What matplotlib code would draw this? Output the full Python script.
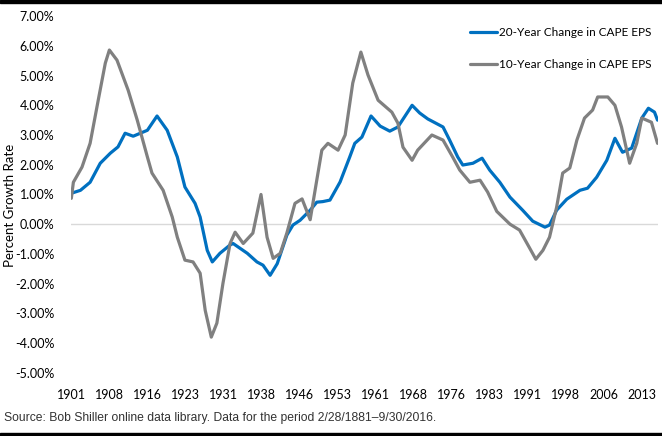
import numpy as np
import matplotlib
matplotlib.use("Agg")
import matplotlib.pyplot as plt
from matplotlib.patches import Rectangle

# =============================================================================
# Data (percent)
# =============================================================================

yrs_20 = [1901.1, 1902.9, 1904.8, 1906.8, 1908.8, 1910.3, 1911.7, 1913.3, 1916.1,
          1918.0, 1920.0, 1922.0, 1923.5, 1925.5, 1926.5, 1927.9, 1928.9, 1930.4,
          1932.4, 1933.0, 1935.8, 1937.7, 1938.9, 1940.3, 1941.7, 1943.6, 1944.8,
          1946.2, 1948.2, 1949.5, 1950.7, 1952.1, 1954.1, 1956.0, 1957.0, 1958.4,
          1960.2, 1962.0, 1963.9, 1965.5, 1968.3, 1969.8, 1971.4, 1974.4, 1975.7,
          1977.3, 1978.3, 1980.3, 1982.1, 1983.6, 1985.6, 1987.6, 1990.1, 1992.1,
          1994.5, 1995.4, 1996.8, 1998.8, 2001.4, 2002.9, 2004.7, 2006.7, 2008.3,
          2009.8, 2011.6, 2013.6, 2014.9, 2016.1, 2016.7]
chg_20 = [1.04, 1.14, 1.41, 2.05, 2.39, 2.60, 3.06, 2.96, 3.16,
          3.64, 3.16, 2.26, 1.25, 0.70, 0.24, -0.88, -1.27, -0.98,
          -0.70, -0.65, -0.98, -1.27, -1.38, -1.72, -1.33, -0.37, -0.03,
          0.13, 0.47, 0.74, 0.76, 0.81, 1.42, 2.26, 2.72, 2.93,
          3.64, 3.30, 3.13, 3.27, 4.00, 3.74, 3.54, 3.27, 2.83,
          2.26, 1.99, 2.05, 2.22, 1.82, 1.41, 0.91, 0.47, 0.10,
          -0.10, -0.03, 0.47, 0.84, 1.14, 1.21, 1.58, 2.15, 2.89,
          2.42, 2.56, 3.57, 3.90, 3.77, 3.50]

yrs_10 = [1901.1, 1901.5, 1903.2, 1904.8, 1906.4, 1907.8, 1908.6, 1910.1, 1912.3,
          1914.1, 1916.1, 1917.0, 1919.2, 1921.0, 1922.0, 1923.5, 1925.1, 1926.5,
          1927.5, 1928.7, 1929.8, 1931.0, 1932.4, 1933.4, 1935.0, 1936.9, 1938.5,
          1939.7, 1940.9, 1942.3, 1943.6, 1945.2, 1946.6, 1948.2, 1949.5, 1950.5,
          1951.7, 1953.7, 1955.1, 1956.6, 1958.2, 1959.6, 1961.6, 1964.3, 1965.5,
          1966.5, 1968.3, 1969.4, 1972.2, 1974.4, 1976.3, 1977.7, 1979.7, 1981.7,
          1983.2, 1985.0, 1987.6, 1989.5, 1991.5, 1992.7, 1994.1, 1995.4, 1996.8,
          1998.0, 1999.4, 2000.8, 2002.3, 2003.9, 2004.9, 2006.9, 2008.3, 2009.6,
          2011.2, 2012.6, 2013.6, 2015.5, 2016.7]
chg_10 = [0.87, 1.41, 1.92, 2.72, 4.17, 5.42, 5.86, 5.52, 4.51,
          3.50, 2.26, 1.72, 1.14, 0.24, -0.44, -1.21, -1.27, -1.65,
          -2.90, -3.80, -3.33, -1.99, -0.65, -0.27, -0.65, -0.30, 1.00,
          -0.44, -1.15, -0.98, -0.30, 0.70, 0.85, 0.15, 1.48, 2.49,
          2.72, 2.49, 3.00, 4.75, 5.79, 5.02, 4.17, 3.77, 3.40,
          2.59, 2.15, 2.49, 3.00, 2.83, 2.26, 1.82, 1.41, 1.48,
          1.08, 0.43, 0.00, -0.20, -0.81, -1.18, -0.88, -0.44, 0.57,
          1.72, 1.89, 2.83, 3.57, 3.84, 4.28, 4.28, 4.00, 3.27,
          2.05, 2.72, 3.57, 3.43, 2.72]

# category-style ticks every 7.5 years, starting Feb 1901
tick_pos = [1901.08 + 7.5 * i for i in range(16)]
tick_lab = [str(int(t)) for t in tick_pos]

BLUE = "#0070C0"
GRAY = "#808080"

# =============================================================================
# Plot
# =============================================================================

fig = plt.figure(figsize=(6.62, 4.36), dpi=100)
ax = fig.add_axes([0.107, 0.145, 0.887, 0.818])

ax.plot(yrs_20, chg_20, color=BLUE, lw=2.3, label="20-Year Change in CAPE EPS",
        solid_capstyle="round", solid_joinstyle="round")
ax.plot(yrs_10, chg_10, color=GRAY, lw=2.3, label="10-Year Change in CAPE EPS",
        solid_capstyle="round", solid_joinstyle="round")

ax.axhline(0, color="#D9D9D9", lw=1, zorder=0)

ax.set_xlim(1901.0, 2016.8)
ax.set_ylim(-5, 7)
ax.set_yticks(range(-5, 8))
ax.set_yticklabels([f"{v:.2f}%" for v in range(-5, 8)])
ax.set_xticks(tick_pos)
ax.set_xticklabels(tick_lab)

for s in ax.spines.values():
    s.set_visible(False)
ax.tick_params(length=0, labelsize=9, colors="black")
ax.tick_params(axis="x", pad=12)
ax.tick_params(axis="y", pad=12)
for lab in ax.get_xticklabels() + ax.get_yticklabels():
    lab.set_fontfamily("Lato")

ax.set_ylabel("Percent Growth Rate", fontsize=9.5, family="Lato")
ax.yaxis.set_label_coords(-0.093, 0.47)

leg = fig.legend(*ax.get_legend_handles_labels(), loc="upper left",
                 bbox_to_anchor=(470 / 662, 1 - 27 / 436), frameon=False,
                 prop={"family": "Lato", "size": 8.5}, handlelength=2.3,
                 handletextpad=0.15, labelspacing=1.75, borderpad=0,
                 borderaxespad=0)

fig.text(0.006, 0.035, "Source: Bob Shiller online data library. Data for the period 2/28/1881\u20139/30/2016.",
         fontsize=8.7, family="Liberation Sans", color="#333333")

# black frame bars top and bottom
fig.patches.append(Rectangle((0, 0.993), 1, 0.007, transform=fig.transFigure,
                             color="black", zorder=10))
fig.patches.append(Rectangle((0, 0), 1, 0.007, transform=fig.transFigure,
                             color="black", zorder=10))

fig.savefig("out.png", dpi=100)
